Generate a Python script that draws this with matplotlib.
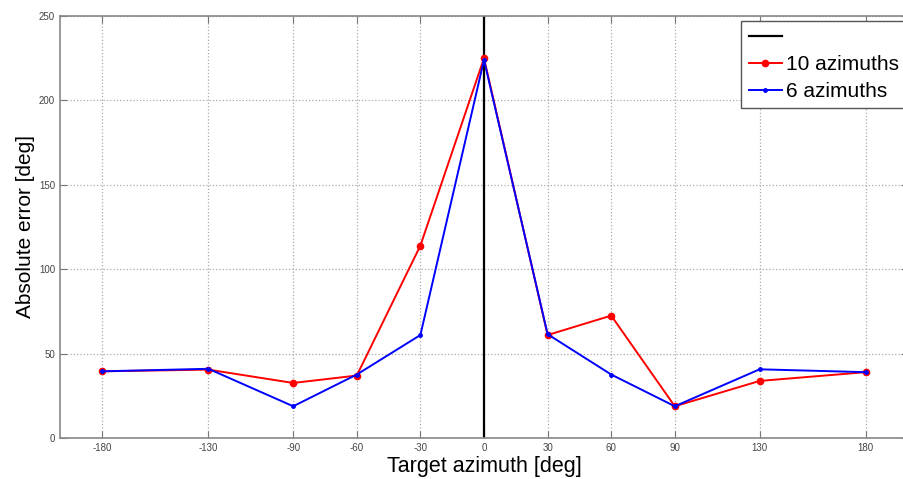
import matplotlib
matplotlib.use("Agg")
import matplotlib.pyplot as plt

plt.rcParams['font.family'] = ['Liberation Sans', 'DejaVu Sans']
plt.rcParams['axes.unicode_minus'] = False

azimuth = [-180, -130, -90, -60, -30, 0, 30, 60, 90, 130, 180]
err_10 = [39.5, 40.5, 32.6, 37, 114, 225, 61, 72.5, 18.8, 33.8, 39]
err_6 = [39.5, 41, 18.8, 37.6, 61, 224, 61.5, 37.6, 18.8, 40.7, 39]
yticks = [0, 50, 100, 150, 200, 250]

fig = plt.figure(figsize=(9.04, 4.79), dpi=100)
ax = fig.add_axes([60 / 904, 1 - 438 / 479, 848 / 904, 422 / 479])

vline = ax.axvline(0, color='black', lw=1.6)
l10, = ax.plot(azimuth, err_10, color='red', marker='o', ms=4.5, lw=1.4)
l6, = ax.plot(azimuth, err_6, color='blue', marker='.', ms=5, lw=1.4)

ax.set_xlim(-200, 200)
ax.set_ylim(0, 250)
ax.set_xticks(azimuth)
ax.set_yticks(yticks)
ax.tick_params(direction='in', top=True, right=True, labelsize=7,
               labelcolor='#444444', color='#777777', length=5)
ax.grid(True, ls=':', color='#aaaaaa', lw=0.9)
for s in ax.spines.values():
    s.set_color('#888888')
    s.set_linewidth(1.2)

ax.set_xlabel('Target azimuth [deg]', fontsize=15.5, labelpad=2)
ax.set_ylabel('Absolute error [deg]', fontsize=15, labelpad=3)

leg = ax.legend([vline, l10, l6], ['', '10 azimuths', '6 azimuths'],
                loc='upper right', bbox_to_anchor=(0.998, 0.988), fontsize=15,
                fancybox=False, framealpha=1, edgecolor='#555555',
                handlelength=1.6, handletextpad=0.2, borderaxespad=0.0,
                labelspacing=0.38, borderpad=0.35)
leg.get_frame().set_linewidth(1.0)

fig.savefig('out.png', dpi=100)
